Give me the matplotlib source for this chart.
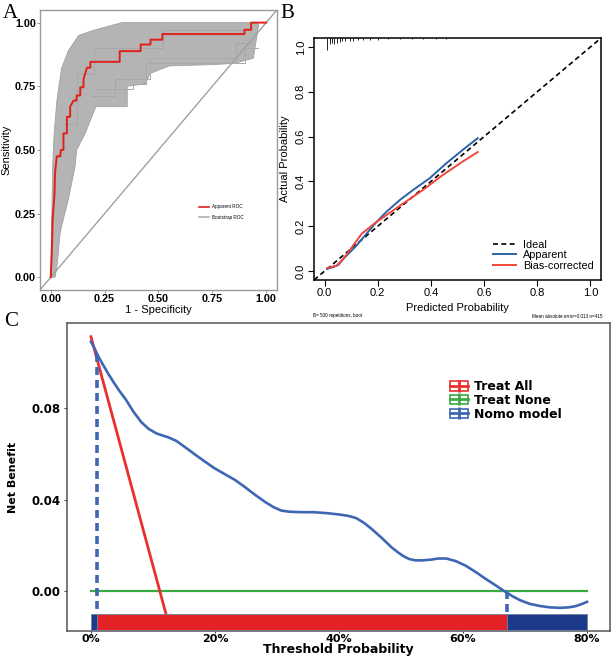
import numpy as np
import matplotlib
matplotlib.use('Agg')
import matplotlib.pyplot as plt
from matplotlib.lines import Line2D
from matplotlib.patches import Patch

# ---- panel A: ROC ----
roc_fpr = [0, 0.005, 0.009, 0.017, 0.02, 0.028, 0.044, 0.047, 0.059, 0.059, 0.075, 0.075, 0.09, 0.09,
           0.106, 0.12, 0.12, 0.137, 0.137, 0.152, 0.152, 0.168, 0.184, 0.184, 0.32, 0.32, 0.417,
           0.417, 0.463, 0.463, 0.518, 0.518, 0.899, 0.899, 0.93, 0.93, 1.0]
roc_tpr = [0, 0.10, 0.23, 0.32, 0.41, 0.475, 0.475, 0.50, 0.50, 0.565, 0.565, 0.63, 0.63, 0.67,
           0.694, 0.694, 0.714, 0.714, 0.746, 0.746, 0.778, 0.823, 0.823, 0.846, 0.846, 0.888, 0.888,
           0.914, 0.914, 0.933, 0.933, 0.955, 0.955, 0.972, 0.972, 1.0, 1.0]

# outline of the bootstrap ROC bundle
boot_upper_fpr = [0, 0.004, 0.009, 0.016, 0.028, 0.05, 0.082, 0.13, 0.2, 0.33, 0.96]
boot_upper_tpr = [0, 0.2, 0.436, 0.565, 0.69, 0.82, 0.89, 0.95, 0.97, 1.0, 1.0]
boot_lower_fpr = [0.965, 0.94, 0.85, 0.75, 0.55, 0.46, 0.44, 0.355, 0.355, 0.21, 0.19, 0.16, 0.12,
                  0.113, 0.082, 0.044, 0.03, 0.02]
boot_lower_tpr = [0.99, 0.86, 0.84, 0.835, 0.83, 0.80, 0.76, 0.75, 0.67, 0.67, 0.63, 0.565, 0.5,
                  0.436, 0.307, 0.178, 0.05, 0.0]
# a few stray bootstrap curves visible inside the bundle
stray_fpr = [[0.21, 0.38, 0.38, 0.44, 0.44, 0.9, 0.9, 0.96],
             [0.19, 0.3, 0.3, 0.46, 0.46, 0.86, 0.86, 0.94],
             [0.05, 0.12, 0.12, 0.2, 0.2, 0.52, 0.52, 0.92]]
stray_tpr = [[0.74, 0.74, 0.76, 0.76, 0.84, 0.84, 0.9, 0.9],
             [0.71, 0.71, 0.78, 0.78, 0.86, 0.86, 0.92, 0.92],
             [0.6, 0.6, 0.8, 0.8, 0.9, 0.9, 0.97, 0.97]]

# ---- panel B: calibration ----
app_x = [0.009, 0.034, 0.052, 0.071, 0.096, 0.121, 0.158, 0.196, 0.233, 0.283, 0.333, 0.395, 0.458, 0.52, 0.576]
app_y = [0.010, 0.018, 0.028, 0.055, 0.085, 0.115, 0.167, 0.22, 0.265, 0.317, 0.362, 0.414, 0.481, 0.541, 0.593]
bc_x = [0.009, 0.046, 0.071, 0.108, 0.140, 0.196, 0.233, 0.296, 0.37, 0.445, 0.52, 0.576]
bc_y = [0.013, 0.025, 0.055, 0.115, 0.167, 0.22, 0.25, 0.302, 0.362, 0.429, 0.489, 0.531]
rug_x = [0.009, 0.019, 0.027, 0.036, 0.046, 0.056, 0.065, 0.077, 0.094, 0.108, 0.127, 0.146,
         0.171, 0.202, 0.239, 0.283, 0.327, 0.37, 0.42, 0.458]
rug_len = [0.055, 0.025, 0.02, 0.025, 0.02, 0.018, 0.015, 0.015, 0.012, 0.012, 0.01, 0.01,
           0.008, 0.008, 0.006, 0.006, 0.005, 0.005, 0.004, 0.004]

# ---- panel C: decision curve ----
thr = [0, 0.006, 0.0114, 0.02, 0.028, 0.0366, 0.046, 0.0555, 0.068, 0.081, 0.093, 0.106, 0.116,
       0.125, 0.1375, 0.152, 0.169, 0.184, 0.199, 0.215, 0.232, 0.248, 0.264, 0.28, 0.295, 0.307,
       0.320, 0.34, 0.358, 0.38, 0.400, 0.415, 0.428, 0.441, 0.453, 0.47, 0.485, 0.495, 0.504,
       0.513, 0.523, 0.535, 0.548, 0.56, 0.573, 0.588, 0.604, 0.62, 0.636, 0.652, 0.667, 0.68,
       0.693, 0.708, 0.724, 0.74, 0.756, 0.77, 0.781, 0.79, 0.800]
nb_model = [0.1088, 0.1058, 0.1026, 0.0985, 0.0948, 0.0911, 0.0873, 0.0839, 0.0785, 0.0738, 0.0708,
            0.0688, 0.0679, 0.0671, 0.0656, 0.0628, 0.0594, 0.0565, 0.0537, 0.0512, 0.0486, 0.0455,
            0.0422, 0.0391, 0.0366, 0.0352, 0.0347, 0.0345, 0.0345, 0.0341, 0.0335, 0.0329, 0.0319,
            0.0297, 0.0271, 0.0230, 0.0191, 0.0170, 0.0153, 0.0141, 0.0135, 0.0135, 0.0138, 0.0143,
            0.0143, 0.0132, 0.0112, 0.0085, 0.0055, 0.0027, 0.0, -0.0022, -0.0040, -0.0055, -0.0064,
            -0.0070, -0.0072, -0.0070, -0.0065, -0.0057, -0.0046]
treat_all_x = [0, 0.121]
treat_all_y = [0.111, -0.0099]
treat_none_x = [0, 0.8]
treat_none_y = [0, 0]
# coloured strip along the bottom
strip_start = [0, 0.0097, 0.671]
strip_end = [0.0097, 0.671, 0.8]
strip_col = ['#1b3a8a', '#e32226', '#1b3a8a']
cut_low = 0.0097
cut_high = 0.671

arial = 'Liberation Sans'

fig = plt.figure(figsize=(6.14, 6.59), dpi=100)

# ================= A =================
axA = fig.add_axes([0.0651, 0.560, 0.386, 0.425])
axA.fill(np.r_[boot_upper_fpr, boot_lower_fpr], np.r_[boot_upper_tpr, boot_lower_tpr],
         facecolor='#b4b4b4', edgecolor='#a0a0a0', lw=0.6)
for fx, fy in zip(stray_fpr, stray_tpr):
    axA.plot(fx, fy, color='#a8a8a8', lw=0.7)
axA.plot([-0.05, 1.05], [-0.05, 1.05], color='#a0a0a0', lw=1)
axA.plot(roc_fpr, roc_tpr, color='#e0201b', lw=1.4)
axA.set_xlim(-0.05, 1.05)
axA.set_ylim(-0.05, 1.05)
ticks = [0, 0.25, 0.5, 0.75, 1.0]
labs = ['0.00', '0.25', '0.50', '0.75', '1.00']
axA.set_xticks(ticks)
axA.set_xticklabels(labs, fontsize=7.8, fontweight='bold', family=arial)
axA.set_yticks(ticks)
axA.set_yticklabels(labs, fontsize=7.8, fontweight='bold', family=arial)
axA.tick_params(length=2, width=0.6, color='#888888', pad=1)
for s in axA.spines.values():
    s.set_color('#999999')
    s.set_linewidth(1)
axA.set_xlabel('1 - Specificity', fontsize=8, family=arial, labelpad=0.5)
axA.set_ylabel('Sensitivity', fontsize=8, family=arial, labelpad=2)
axA.legend(handles=[Line2D([], [], color='#e0201b', lw=1.2), Line2D([], [], color='#b2b2b2', lw=1.2)],
           labels=['Apparent ROC', 'Bootstrap ROC'], loc='upper left', bbox_to_anchor=(0.655, 0.32),
           frameon=False, prop={'family': arial, 'size': 3.3}, handlelength=2, labelspacing=1.2)

# ================= B =================
axB = fig.add_axes([0.5114, 0.5751, 0.4674, 0.3672])
axB.plot([-0.04, 1.04], [-0.04, 1.04], color='black', lw=1.2, ls=(0, (3, 2)), label='Ideal')
axB.plot(app_x, app_y, color='#2b63a8', lw=1.4, label='Apparent')
axB.plot(bc_x, bc_y, color='#f0473a', lw=1.4, label='Bias-corrected')
axB.set_xlim(-0.04, 1.04)
axB.set_ylim(-0.04, 1.04)
top = 1.04
axB.vlines(rug_x, [top - l for l in rug_len], top, color='black', lw=0.6)
bt = [0, 0.2, 0.4, 0.6, 0.8, 1.0]
axB.set_xticks(bt)
axB.set_xticklabels(['0.0', '0.2', '0.4', '0.6', '0.8', '1.0'], fontsize=8, family=arial)
axB.set_yticks(bt)
axB.set_yticklabels(['0.0', '0.2', '0.4', '0.6', '0.8', '1.0'], fontsize=8, family=arial,
                    rotation=90, va='center')
axB.tick_params(length=4, width=0.8, pad=2)
for s in axB.spines.values():
    s.set_linewidth(1.1)
axB.set_xlabel('Predicted Probability', fontsize=8, family=arial, labelpad=3)
axB.set_ylabel('Actual Probability', fontsize=8, family=arial, labelpad=4)
axB.legend(loc='upper left', bbox_to_anchor=(0.61, 0.185), frameon=False,
           prop={'family': arial, 'size': 7.8}, handlelength=2.1, labelspacing=0.05,
           handletextpad=0.6, borderaxespad=0)
fig.text(313 / 614, 1 - 316 / 659, 'B= 500 repetitions, boot', fontsize=3.3, family=arial, va='center')
fig.text(602 / 614, 1 - 316 / 659, 'Mean absolute error=0.013 n=415', fontsize=3.3, family=arial,
         va='center', ha='right')

# ================= C =================
axC = fig.add_axes([0.1091, 0.0425, 0.8844, 0.4674])
axC.plot(treat_none_x, treat_none_y, color='#3aaa45', lw=1.6)
axC.plot(treat_all_x, treat_all_y, color='#e8312f', lw=2)
axC.plot(thr, nb_model, color='#3f66b3', lw=1.9)
axC.plot([cut_low, cut_low], [np.interp(cut_low, thr, nb_model), -0.0099], color='#3f66b3', lw=2.6,
         ls=(0, (2.2, 1.4)))
axC.plot([cut_high, cut_high], [0, -0.0099], color='#3f66b3', lw=2.6, ls=(0, (2.2, 1.4)))
axC.barh(-0.0134, np.subtract(strip_end, strip_start), left=strip_start, height=0.007,
         color=strip_col, edgecolor='#7080a0', lw=0.6, zorder=3)
axC.set_xlim(-0.0387, 0.837)
axC.set_ylim(-0.0173, 0.117)
axC.set_xticks([0, 0.2, 0.4, 0.6, 0.8])
axC.set_xticklabels(['0%', '20%', '40%', '60%', '80%'], fontsize=8, fontweight='bold')
axC.set_yticks([0, 0.04, 0.08])
axC.set_yticklabels(['0.00', '0.04', '0.08'], fontsize=8.5, fontweight='bold')
axC.tick_params(length=2.5, width=0.8, color='#444444', pad=2)
axC.tick_params(axis='x', pad=0.5, length=1.5)
for s in axC.spines.values():
    s.set_color('#555555')
    s.set_linewidth(1.1)
axC.set_xlabel('Threshold Probability', fontsize=9, fontweight='bold', labelpad=-0.3)
axC.set_ylabel('Net Benefit', fontsize=8, fontweight='bold', family='Liberation Sans Narrow', labelpad=10)

def key(c):
    return (Patch(facecolor='white', edgecolor=c, lw=1.2),
            Line2D([], [], color=c, lw=2),
            Line2D([], [], color=c, marker='|', ms=9, mew=2, ls='none'))

axC.legend(handles=[key('#e8312f'), key('#3aaa45'), key('#3f66b3')],
           labels=['Treat All', 'Treat None', 'Nomo model'], loc='upper left',
           bbox_to_anchor=(0.685, 0.85), frameon=False, prop={'size': 9, 'weight': 'bold'},
           handlelength=1.4, handleheight=0.8, labelspacing=0.05, handletextpad=0.5)

# panel letters
fig.text(3 / 614, 1 - 14 / 659, 'A', fontsize=15, family='Liberation Serif', va='center')
fig.text(280 / 614, 1 - 14 / 659, 'B', fontsize=15, family='Liberation Serif', va='center')
fig.text(4 / 614, 1 - 322 / 659, 'C', fontsize=15, family='Liberation Serif', va='center')

fig.savefig('out.png', dpi=100)
